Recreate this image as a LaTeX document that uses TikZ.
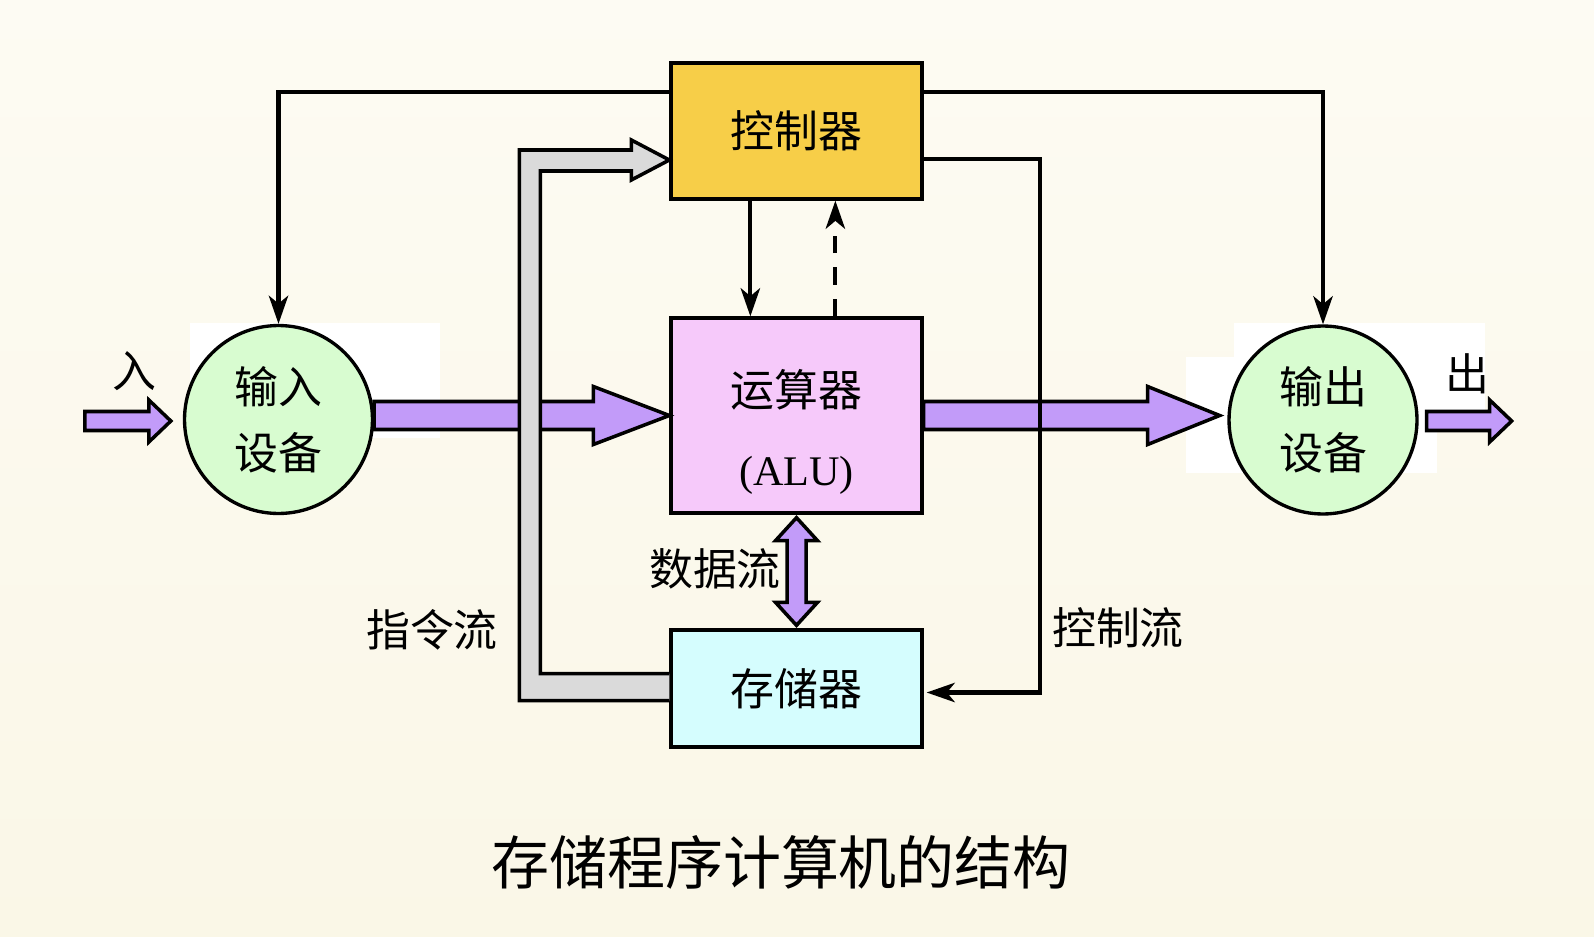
\documentclass[tikz,border=0pt]{standalone}
\usepackage{fontspec}
\setmainfont{Liberation Serif}
\newfontfamily\cjk{Noto Sans CJK SC}
\usetikzlibrary{arrows.meta,positioning,calc}
\definecolor{bgTop}{RGB}{253,251,243}
\definecolor{bgBot}{RGB}{250,247,231}
\definecolor{ctrlFill}{RGB}{247,206,72}
\definecolor{aluFill}{RGB}{246,201,250}
\definecolor{memFill}{RGB}{213,253,254}
\definecolor{devFill}{RGB}{216,252,208}
\definecolor{flowFill}{RGB}{194,155,249}
\definecolor{instrFill}{RGB}{218,218,218}

\begin{document}
\begin{tikzpicture}[x=0.02cm, y=-0.02cm,
    unitbox/.style={draw, line width=1.9pt, minimum width=5.02cm},
    device/.style={circle, draw, line width=1.9pt, fill=devFill, minimum size=3.76cm,
      inner sep=0pt, align=center, font=\cjk\fontsize{25}{37.4}\selectfont},
    cjktext/.style={font=\cjk\fontsize{25}{30}\selectfont},
    wire/.style={line width=2.4pt, -{Stealth[length=16pt,width=11pt,inset=4.5pt]}},
    fatflow/.style={draw, line width=2pt, fill=flowFill, line join=miter},
  ]
    % background and the white patches behind the devices
    \shade[top color=bgTop, bottom color=bgBot] (0,0) rectangle (1594,936);
    \useasboundingbox (0,0) rectangle (1594,936);
    \fill[white] (190,323) rectangle (440,438);
    \fill[white] (1234,323) rectangle (1485,432);
    \fill[white] (1186,357) rectangle (1437,473);
    % units
    \node[unitbox, fill=ctrlFill, minimum height=2.72cm, cjktext] (ctrl) at (796.5,131) {控制器};
    \node[unitbox, fill=aluFill, minimum height=3.9cm] (alu) at (796.5,415.5) {};
    \node[align=center, font=\fontsize{25}{45.4}\selectfont] (alutext) at (796.5,432)
      {{\cjk 运算器}\\{\fontsize{24}{45.4}\selectfont(ALU)}};
    \node[unitbox, fill=memFill, minimum height=2.34cm, cjktext] (mem) at (796.5,688.5) {存储器};
    \node[device] (inp) at (278.5,419.5) {输入\\设备};
    \node[device] (outp) at (1323,420) {输出\\设备};
    % data flow
    \draw[fatflow] (alu.west) -- ++(-76,-29) -- ++(0,15) -- ($(inp.east)+(0,-18)$) -- ++(0,28)
      -- ($(alu.west)+(-76,14)$) -- ++(0,15) -- cycle;
    \draw[fatflow] ($(alu.east)+(296,0)$) -- ++(-72,-29) -- ++(0,15) -- ($(alu.east)+(0,-14)$) -- ++(0,28)
      -- ($(alu.east)+(224,14)$) -- ++(0,15) -- cycle;
    \draw[fatflow] ($(inp.west)+(-12,1.5)$) -- ++(-22,-21) -- ++(0,11.5) -- ++(-64,0) -- ++(0,19)
      -- ++(64,0) -- ++(0,11.5) -- cycle;
    \draw[fatflow] ($(outp.east)+(93,1)$) -- ++(-22,-21) -- ++(0,11.5) -- ++(-63,0) -- ++(0,19)
      -- ++(63,0) -- ++(0,11.5) -- cycle;
    \draw[fatflow] ($(alu.south)+(0,3)$) -- ++(21,23) -- ++(-11.5,0) -- ($(mem.north)+(9.5,-26)$)
      -- ++(11.5,0) -- ($(mem.north)+(0,-3)$) -- ++(-21,-23) -- ++(11.5,0)
      -- ($(alu.south)+(-9.5,26)$) -- ++(-11.5,0) -- cycle;
    % instruction flow
    \draw[line width=2pt, fill=instrFill] ($(mem.west)+(0,12)$) -- ($(mem.west)+(-150,12)$)
      -- ($(ctrl.west)+(-150,19)$) -- ($(ctrl.west)+(-38,19)$) -- ++(0,-10) -- ($(ctrl.west)+(0,29)$)
      -- ($(ctrl.west)+(-38,49)$) -- ++(0,-9) -- ($(ctrl.west)+(-129,40)$)
      -- ($(mem.west)+(-129,-15)$) -- ($(mem.west)+(0,-15)$);
    % control flow
    \draw[wire] ($(ctrl.north west)+(0,31)$) -| (inp.north);
    \draw[wire] ($(ctrl.north east)+(0,31)$) -| (outp.north);
    \draw[wire] ($(ctrl.east)+(0,28)$) -- ++(116,0) |- ($(mem.east)+(3,4)$);
    \draw[wire] ($(ctrl.south west)+(81,0)$) -- ($(alu.north west)+(81,0)$);
    \draw[wire, dash pattern=on 10pt off 8pt] ($(alu.north west)+(166,0)$) -- ($(ctrl.south west)+(166,0)$);
    % labels
    \node[cjktext] (inlabel) at (134,371) {入};
    \node[cjktext] (outlabel) at (1467,374) {出};
    \node[cjktext] (datalabel) at (715,569) {数据流};
    \node[cjktext] (instrlabel) at (432,630) {指令流};
    \node[cjktext] (ctrllabel) at (1118,628) {控制流};
    \node[font=\cjk\fontsize{33}{40}\selectfont] (title) at (781,862) {存储程序计算机的结构};
  \end{tikzpicture}
\end{document}
